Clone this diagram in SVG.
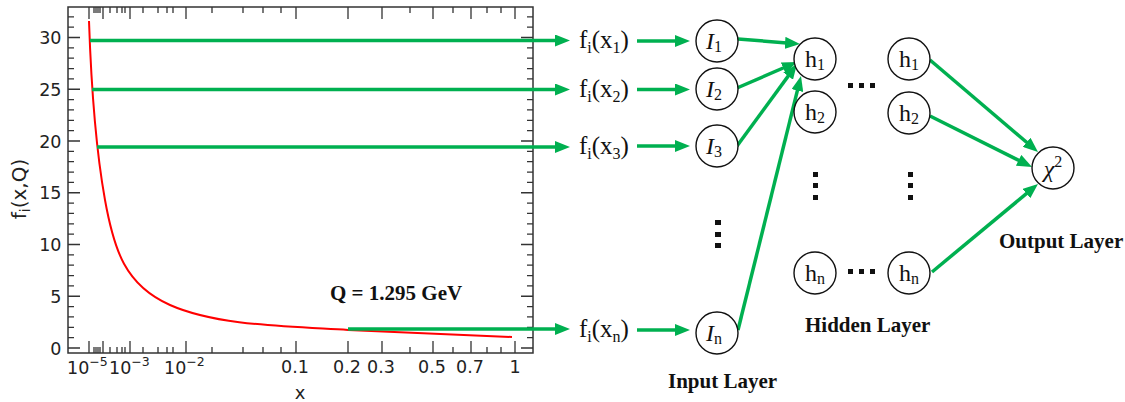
<svg xmlns="http://www.w3.org/2000/svg" width="1125" height="402" viewBox="0 0 1125 402">
<style>
.ax{fill:none;stroke:#333;stroke-width:1.5}
.tk{fill:none;stroke:#333;stroke-width:1.3}
.tl{font-family:"DejaVu Sans",sans-serif;font-size:17.5px;fill:#222}
.g{fill:none;stroke:#00b050;stroke-width:3.5}
.nd{fill:#fff;stroke:#111;stroke-width:1.4}
.lb{font-family:"Liberation Serif","Times New Roman",serif;font-size:25px;fill:#111}
.nl{font-family:"Liberation Serif","Times New Roman",serif;font-size:24px;fill:#111;text-anchor:middle}
.bt{font-family:"Liberation Serif","Times New Roman",serif;font-weight:bold;font-size:21px;fill:#111}
.dot{fill:#111}
</style>
<defs>
<marker id="ah" markerUnits="userSpaceOnUse" markerWidth="15" markerHeight="12" refX="5" refY="6" orient="auto">
<path d="M0,0 L15,6 L0,12 z" fill="#00b050"/>
</marker>
</defs>

<g id="plot">
<rect class="ax" x="68" y="7" width="465" height="346"/>
<path class="tk" d="M68 348h12M68 296.25h12M68 244.5h12M68 192.75h12M68 141h12M68 89.25h12M68 37.5h12
M533 348h-12M533 296.25h-12M533 244.5h-12M533 192.75h-12M533 141h-12M533 89.25h-12M533 37.5h-12"/>
<path class="tk" d="M68 337.65h6M68 327.3h6M68 316.95h6M68 306.6h6M68 285.9h6M68 275.55h6M68 265.2h6M68 254.85h6M68 234.15h6M68 223.8h6M68 213.45h6M68 203.1h6M68 182.4h6M68 172.05h6M68 161.7h6M68 151.35h6M68 130.65h6M68 120.3h6M68 109.95h6M68 99.6h6M68 78.9h6M68 68.55h6M68 58.2h6M68 47.85h6M68 27.15h6M68 16.8h6
M533 337.65h-6M533 327.3h-6M533 316.95h-6M533 306.6h-6M533 285.9h-6M533 275.55h-6M533 265.2h-6M533 254.85h-6M533 234.15h-6M533 223.8h-6M533 213.45h-6M533 203.1h-6M533 182.4h-6M533 172.05h-6M533 161.7h-6M533 151.35h-6M533 130.65h-6M533 120.3h-6M533 109.95h-6M533 99.6h-6M533 78.9h-6M533 68.55h-6M533 58.2h-6M533 47.85h-6M533 27.15h-6M533 16.8h-6"/>
<path class="tk" d="M89 353v-12M103 353v-12M130 353v-12M186 353v-12M296 353v-12M348 353v-12M382 353v-12M433 353v-12M471 353v-12M515 353v-12
M89 7v12M103 7v12M130 7v12M186 7v12M296 7v12M348 7v12M382 7v12M433 7v12M471 7v12M515 7v12"/>
<path class="tk" d="M94 353v-6M96 353v-6M98 353v-6M100 353v-6M110 353v-6M117 353v-6M122 353v-6M125 353v-6M143 353v-6M158 353v-6M167 353v-6M173 353v-6M212 353v-6M243 353v-6M263 353v-6M281 353v-6M410 353v-6M453 353v-6M487 353v-6M501 353v-6
M94 7v6M96 7v6M98 7v6M100 7v6M110 7v6M117 7v6M122 7v6M125 7v6M143 7v6M158 7v6M167 7v6M173 7v6M212 7v6M243 7v6M263 7v6M281 7v6M410 7v6M453 7v6M487 7v6M501 7v6"/>
<g class="tl" text-anchor="end">
<text x="61.5" y="354.5">0</text>
<text x="61.5" y="302.75">5</text>
<text x="61.5" y="251">10</text>
<text x="61.5" y="199.25">15</text>
<text x="61.5" y="147.5">20</text>
<text x="61.5" y="95.75">25</text>
<text x="61.5" y="44">30</text>
</g>
<g class="tl">
<text x="67" y="374">10<tspan dy="-8" font-size="12.5">−5</tspan></text>
<text x="109" y="374">10<tspan dy="-8" font-size="12.5">−3</tspan></text>
<text x="164" y="374">10<tspan dy="-8" font-size="12.5">−2</tspan></text>
</g>
<g class="tl" text-anchor="middle">
<text x="295" y="373">0.1</text>
<text x="347" y="373">0.2</text>
<text x="381" y="373">0.3</text>
<text x="432" y="373">0.5</text>
<text x="470" y="373">0.7</text>
<text x="515" y="373">1</text>
<text x="300" y="399" font-size="18">x</text>
<text transform="translate(26,189) rotate(-90)" font-size="20">f<tspan dy="4" font-size="14">i</tspan><tspan dy="-4">(x,Q)</tspan></text>
</g>
<path d="M89 21 C91 80 96 150 105 200 S125 285 170 305 S280 326 348 330 L512 337" fill="none" stroke="#ff0000" stroke-width="2"/>
<text class="bt" x="330" y="300" font-size="23">Q = 1.295 GeV</text>
</g>

<g id="connectors">
<path class="g" marker-end="url(#ah)" d="M90 40.5H560"/>
<path class="g" marker-end="url(#ah)" d="M92 89.5H560"/>
<path class="g" marker-end="url(#ah)" d="M97 147H560"/>
<path class="g" marker-end="url(#ah)" d="M348 329H560"/>
<path class="g" marker-end="url(#ah)" d="M637 41H680"/>
<path class="g" marker-end="url(#ah)" d="M637 89.5H680"/>
<path class="g" marker-end="url(#ah)" d="M637 146H680"/>
<path class="g" marker-end="url(#ah)" d="M637 330H680"/>
<path class="g" marker-end="url(#ah)" d="M738 39L790 43.2"/>
<path class="g" marker-end="url(#ah)" d="M737 88L787.8 66"/>
<path class="g" marker-end="url(#ah)" d="M737 146L791.1 72.1"/>
<path class="g" marker-end="url(#ah)" d="M738 330L798.6 85.7"/>
<path class="g" marker-end="url(#ah)" d="M930 60L1030.4 145.5"/>
<path class="g" marker-end="url(#ah)" d="M930 116L1023.1 162.5"/>
<path class="g" marker-end="url(#ah)" d="M932 272L1030.3 190.4"/>
</g>

<g id="f1"><text class="lb" x="579" y="48">f<tspan dy="5" font-size="16">i</tspan><tspan dy="-5">(x</tspan><tspan dy="5" font-size="16">1</tspan><tspan dy="-5">)</tspan></text></g>
<g id="f2"><text class="lb" x="579" y="97">f<tspan dy="5" font-size="16">i</tspan><tspan dy="-5">(x</tspan><tspan dy="5" font-size="16">2</tspan><tspan dy="-5">)</tspan></text></g>
<g id="f3"><text class="lb" x="579" y="154">f<tspan dy="5" font-size="16">i</tspan><tspan dy="-5">(x</tspan><tspan dy="5" font-size="16">3</tspan><tspan dy="-5">)</tspan></text></g>
<g id="fn"><text class="lb" x="579" y="337">f<tspan dy="5" font-size="16">i</tspan><tspan dy="-5">(x</tspan><tspan dy="5" font-size="16">n</tspan><tspan dy="-5">)</tspan></text></g>

<g id="I1"><circle class="nd" cx="717" cy="41" r="21"/><text class="nl" x="714" y="49"><tspan font-style="italic">I</tspan><tspan dy="3" font-size="16">1</tspan></text></g>
<g id="I2"><circle class="nd" cx="717" cy="89" r="21"/><text class="nl" x="714" y="97"><tspan font-style="italic">I</tspan><tspan dy="3" font-size="16">2</tspan></text></g>
<g id="I3"><circle class="nd" cx="717" cy="146" r="21"/><text class="nl" x="714" y="154"><tspan font-style="italic">I</tspan><tspan dy="3" font-size="16">3</tspan></text></g>
<g id="In"><circle class="nd" cx="717" cy="333" r="21"/><text class="nl" x="714" y="341"><tspan font-style="italic">I</tspan><tspan dy="3" font-size="16">n</tspan></text></g>
<g id="in-dots"><rect class="dot" x="715" y="220" width="6" height="5"/><rect class="dot" x="715" y="232" width="6" height="5"/><rect class="dot" x="715" y="243" width="6" height="5"/></g>

<g id="h1a"><circle class="nd" cx="815" cy="59" r="21"/><text class="nl" x="815" y="67">h<tspan dy="3" font-size="16">1</tspan></text></g>
<g id="h2a"><circle class="nd" cx="815" cy="112" r="21"/><text class="nl" x="815" y="120">h<tspan dy="3" font-size="16">2</tspan></text></g>
<g id="hna"><circle class="nd" cx="815" cy="273" r="21"/><text class="nl" x="815" y="281">h<tspan dy="3" font-size="16">n</tspan></text></g>
<g id="h1b"><circle class="nd" cx="909" cy="59" r="21"/><text class="nl" x="909" y="67">h<tspan dy="3" font-size="16">1</tspan></text></g>
<g id="h2b"><circle class="nd" cx="909" cy="113" r="21"/><text class="nl" x="909" y="121">h<tspan dy="3" font-size="16">2</tspan></text></g>
<g id="hnb"><circle class="nd" cx="909" cy="273" r="21"/><text class="nl" x="909" y="281">h<tspan dy="3" font-size="16">n</tspan></text></g>
<g id="hid-dots">
<rect class="dot" x="813" y="172" width="5" height="5"/><rect class="dot" x="813" y="183" width="5" height="5"/><rect class="dot" x="813" y="195" width="5" height="5"/>
<rect class="dot" x="908" y="172" width="5" height="5"/><rect class="dot" x="908" y="183" width="5" height="5"/><rect class="dot" x="908" y="195" width="5" height="5"/>
<rect class="dot" x="848" y="83" width="5" height="5"/><rect class="dot" x="859" y="83" width="5" height="5"/><rect class="dot" x="870" y="83" width="5" height="5"/>
<rect class="dot" x="848" y="269" width="5" height="5"/><rect class="dot" x="859" y="269" width="5" height="5"/><rect class="dot" x="870" y="269" width="5" height="5"/>
</g>
<g id="chi2"><circle class="nd" cx="1053" cy="168" r="21"/><text class="nl" x="1053" y="177"><tspan font-style="italic">χ</tspan><tspan dy="-10" font-size="16">2</tspan></text></g>

<g id="labels">
<text class="bt" x="668" y="388">Input Layer</text>
<text class="bt" x="805" y="332">Hidden Layer</text>
<text class="bt" x="999" y="248">Output Layer</text>
</g>
</svg>
